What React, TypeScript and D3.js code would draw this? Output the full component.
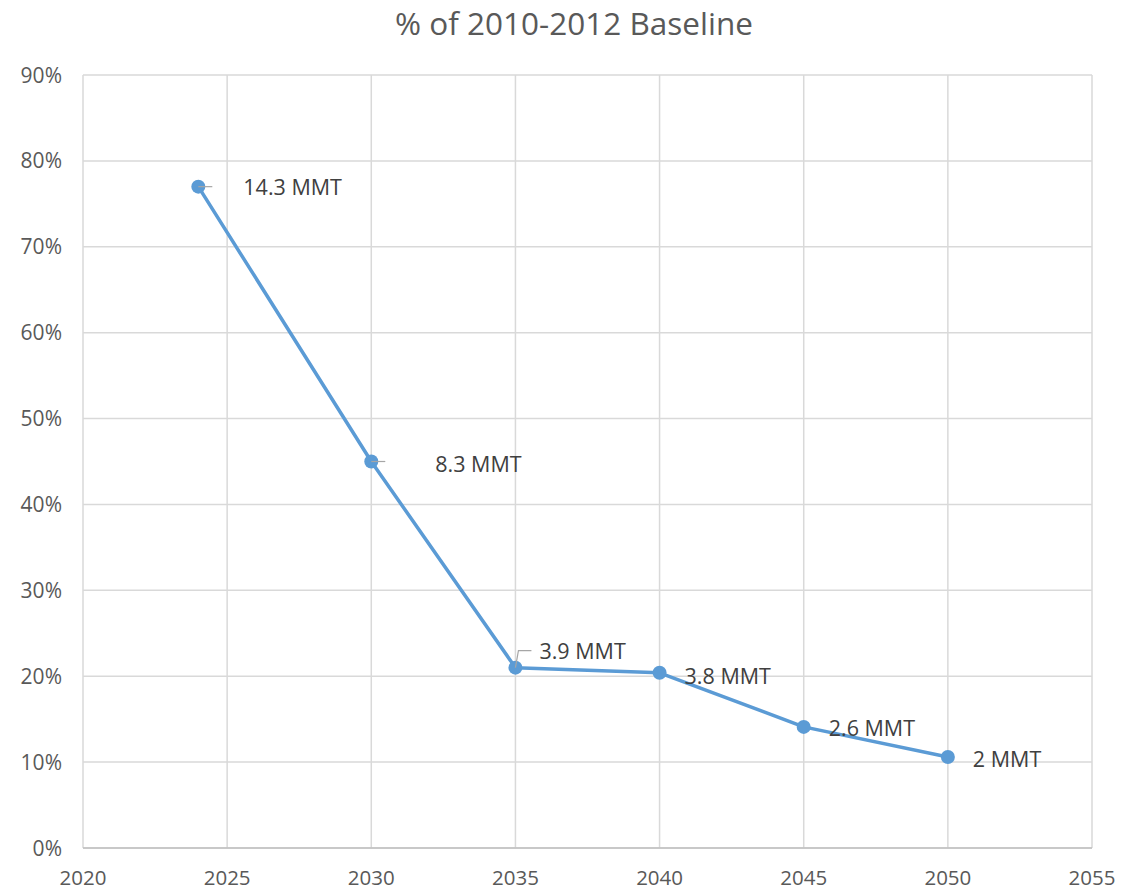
import React, { useEffect } from "react";
import * as d3 from "d3";

const years = [2024, 2030, 2035, 2040, 2045, 2050];
const percentValues = [77, 45, 21, 20.4, 14.1, 10.6];
const labels = ["14.3 MMT", "8.3 MMT", "3.9 MMT", "3.8 MMT", "2.6 MMT", "2 MMT"];
const xTicks = [2020, 2025, 2030, 2035, 2040, 2045, 2050, 2055];
const yTicks = [0, 10, 20, 30, 40, 50, 60, 70, 80, 90];
// label offsets relative to point (layout)
const labelDx = [45, 64, 24, 25, 25, 25];
const labelDy = [0, 2, -17, 3, 1, 2];
const leaderType = ["h", "h", "elbow", "none", "none", "none"];

const W = 1122;
const H = 892;
const M = { left: 83, right: 1092, top: 75, bottom: 848 };
const FONT = "'Open Sans', 'Liberation Sans', sans-serif";
const TEXT = "#595959";

export default function App() {
  useEffect(() => {
    document.body.style.margin = "0";
  }, []);
  const x = d3.scaleLinear().domain([2020, 2055]).range([M.left, M.right]);
  const y = d3.scaleLinear().domain([0, 90]).range([M.bottom, M.top]);
  const line = d3
    .line<number>()
    .x((_, i) => x(years[i]))
    .y((d) => y(d));

  return (
    <svg width={W} height={H} style={{ display: "block", background: "#fff" }}>
      <rect width={W} height={H} fill="#fff" />
      <text x={574} y={35} textAnchor="middle" fontFamily={FONT} fontSize={31.5} fill={TEXT}>
        % of 2010-2012 Baseline
      </text>
      {xTicks.map((t) => (
        <line key={"gx" + t} x1={x(t)} x2={x(t)} y1={M.top} y2={M.bottom} stroke="#d9d9d9" strokeWidth={1.5} />
      ))}
      {yTicks.map((t) => (
        <line key={"gy" + t} x1={M.left} x2={M.right} y1={y(t)} y2={y(t)} stroke="#d9d9d9" strokeWidth={1.5} />
      ))}
      <line x1={M.left} x2={M.right} y1={M.bottom} y2={M.bottom} stroke="#bfbfbf" strokeWidth={1.5} />
      {yTicks.map((t) => (
        <text key={"ty" + t} x={62} y={y(t) + 7.5} textAnchor="end" fontFamily={FONT} fontSize={21} fill={TEXT}>
          {t}%
        </text>
      ))}
      {xTicks.map((t) => (
        <text key={"tx" + t} x={x(t)} y={885} textAnchor="middle" fontFamily={FONT} fontSize={20.5} fill={TEXT}>
          {t}
        </text>
      ))}
      <path d={line(percentValues) || ""} fill="none" stroke="#5B9BD5" strokeWidth={3.5} strokeLinejoin="round" />
      {percentValues.map((v, i) => {
        const px = x(years[i]);
        const py = y(v);
        const lt = leaderType[i];
        let leader = null;
        if (lt === "h") {
          leader = <line x1={px} x2={px + 14} y1={py} y2={py} stroke="#a6a6a6" strokeWidth={1.2} />;
        } else if (lt === "elbow") {
          leader = (
            <polyline
              points={`${px},${py} ${px + 3},${py + labelDy[i]} ${px + 16},${py + labelDy[i]}`}
              fill="none"
              stroke="#a6a6a6"
              strokeWidth={1.2}
            />
          );
        }
        return (
          <g key={"p" + i}>
            <circle cx={px} cy={py} r={7} fill="#5B9BD5" />
            {leader}
          </g>
        );
      })}
      {percentValues.map((v, i) => (
        <text
          key={"l" + i}
          x={x(years[i]) + labelDx[i]}
          y={y(v) + labelDy[i] + 8}
          fontFamily={FONT}
          fontSize={21.5}
          fill="#404040"
        >
          {labels[i]}
        </text>
      ))}
    </svg>
  );
}
